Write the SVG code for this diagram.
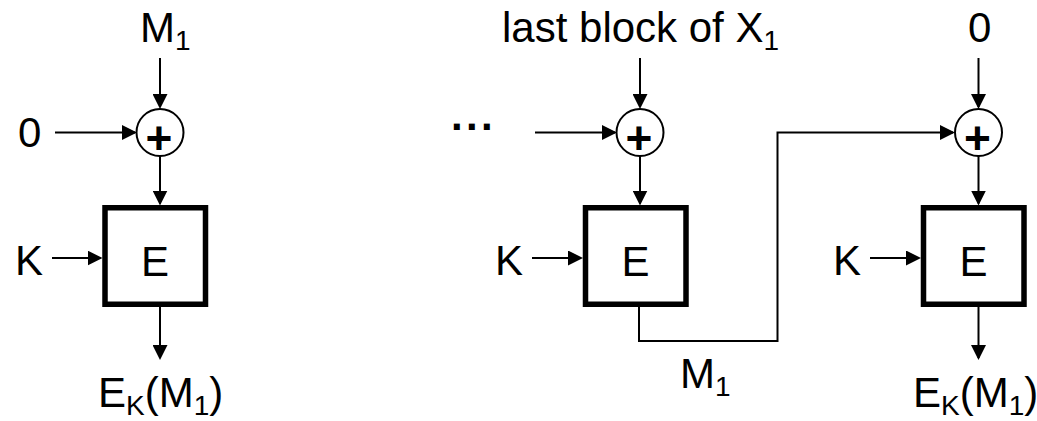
<svg xmlns="http://www.w3.org/2000/svg" width="1037" height="421" viewBox="0 0 1037 421">
<style>
text{font-family:"Liberation Sans",Arial,sans-serif;font-size:42px;fill:#000}
.sub{font-size:28px}
.plus{font-weight:bold;font-size:46px}
.box{fill:#fff;stroke:#000;stroke-width:5.5}
.xor{fill:#fff;stroke:#000;stroke-width:2}
.ln{fill:none;stroke:#000;stroke-width:2}
</style>
<defs>
<marker id="ah" markerUnits="userSpaceOnUse" markerWidth="15" markerHeight="15" refX="13" refY="7.5" orient="auto" viewBox="0 0 15 15">
<path d="M0,0 L15,7.5 L0,15 z" fill="#000"/>
</marker>
</defs>
<g id="connectors">
<line class="ln" x1="160" y1="58" x2="160" y2="107" marker-end="url(#ah)"/>
<line class="ln" x1="55" y1="132.5" x2="135" y2="132.5" marker-end="url(#ah)"/>
<line class="ln" x1="160" y1="156" x2="160" y2="203.5" marker-end="url(#ah)"/>
<line class="ln" x1="52" y1="258" x2="100.5" y2="258" marker-end="url(#ah)"/>
<line class="ln" x1="160" y1="307" x2="160" y2="358" marker-end="url(#ah)"/>
<line class="ln" x1="640" y1="58" x2="640" y2="107" marker-end="url(#ah)"/>
<line class="ln" x1="535" y1="132.5" x2="615" y2="132.5" marker-end="url(#ah)"/>
<line class="ln" x1="640" y1="156" x2="640" y2="203.5" marker-end="url(#ah)"/>
<line class="ln" x1="532" y1="258" x2="581" y2="258" marker-end="url(#ah)"/>
<path class="ln" d="M639,307 V341 H777.5 V132.5 H953" marker-end="url(#ah)"/>
<line class="ln" x1="978.5" y1="58" x2="978.5" y2="107" marker-end="url(#ah)"/>
<line class="ln" x1="978.5" y1="156" x2="978.5" y2="203.5" marker-end="url(#ah)"/>
<line class="ln" x1="870" y1="258" x2="919" y2="258" marker-end="url(#ah)"/>
<line class="ln" x1="978.5" y1="307" x2="978.5" y2="358" marker-end="url(#ah)"/>
</g>
<g id="in-m1"><text x="140" y="42">M<tspan class="sub" dy="8">1</tspan></text></g>
<g id="in-zero-left"><text x="18" y="147">0</text></g>
<g id="xor-left"><circle class="xor" cx="160" cy="132.5" r="23.5"/><text class="plus" x="159" y="154" text-anchor="middle">+</text></g>
<g id="k-left"><text x="15" y="275">K</text></g>
<g id="e-left"><rect class="box" x="105" y="207.75" width="100.5" height="96.5"/><text x="155" y="276" text-anchor="middle">E</text></g>
<g id="out-left"><text x="98" y="407">E<tspan class="sub" dy="8">K</tspan><tspan dy="-8">(M</tspan><tspan class="sub" dy="8">1</tspan><tspan dy="-8">)</tspan></text></g>
<g id="in-last"><text x="502" y="42">last block of X<tspan class="sub" dy="8">1</tspan></text></g>
<g id="dots"><text x="451" y="130" font-weight="bold" letter-spacing="3.3">...</text></g>
<g id="xor-mid"><circle class="xor" cx="640" cy="132.5" r="23.5"/><text class="plus" x="639" y="154" text-anchor="middle">+</text></g>
<g id="k-mid"><text x="495" y="275">K</text></g>
<g id="e-mid"><rect class="box" x="585.5" y="207.75" width="100.5" height="96.5"/><text x="635.5" y="276" text-anchor="middle">E</text></g>
<g id="m1-mid"><text x="680" y="388">M<tspan class="sub" dy="8">1</tspan></text></g>
<g id="in-zero-right"><text x="968" y="42">0</text></g>
<g id="xor-right"><circle class="xor" cx="978.5" cy="132.5" r="23.5"/><text class="plus" x="977.5" y="154" text-anchor="middle">+</text></g>
<g id="k-right"><text x="833" y="275">K</text></g>
<g id="e-right"><rect class="box" x="923.5" y="207.75" width="100.5" height="96.5"/><text x="973.5" y="276" text-anchor="middle">E</text></g>
<g id="out-right"><text x="913" y="407">E<tspan class="sub" dy="8">K</tspan><tspan dy="-8">(M</tspan><tspan class="sub" dy="8">1</tspan><tspan dy="-8">)</tspan></text></g>
</svg>
